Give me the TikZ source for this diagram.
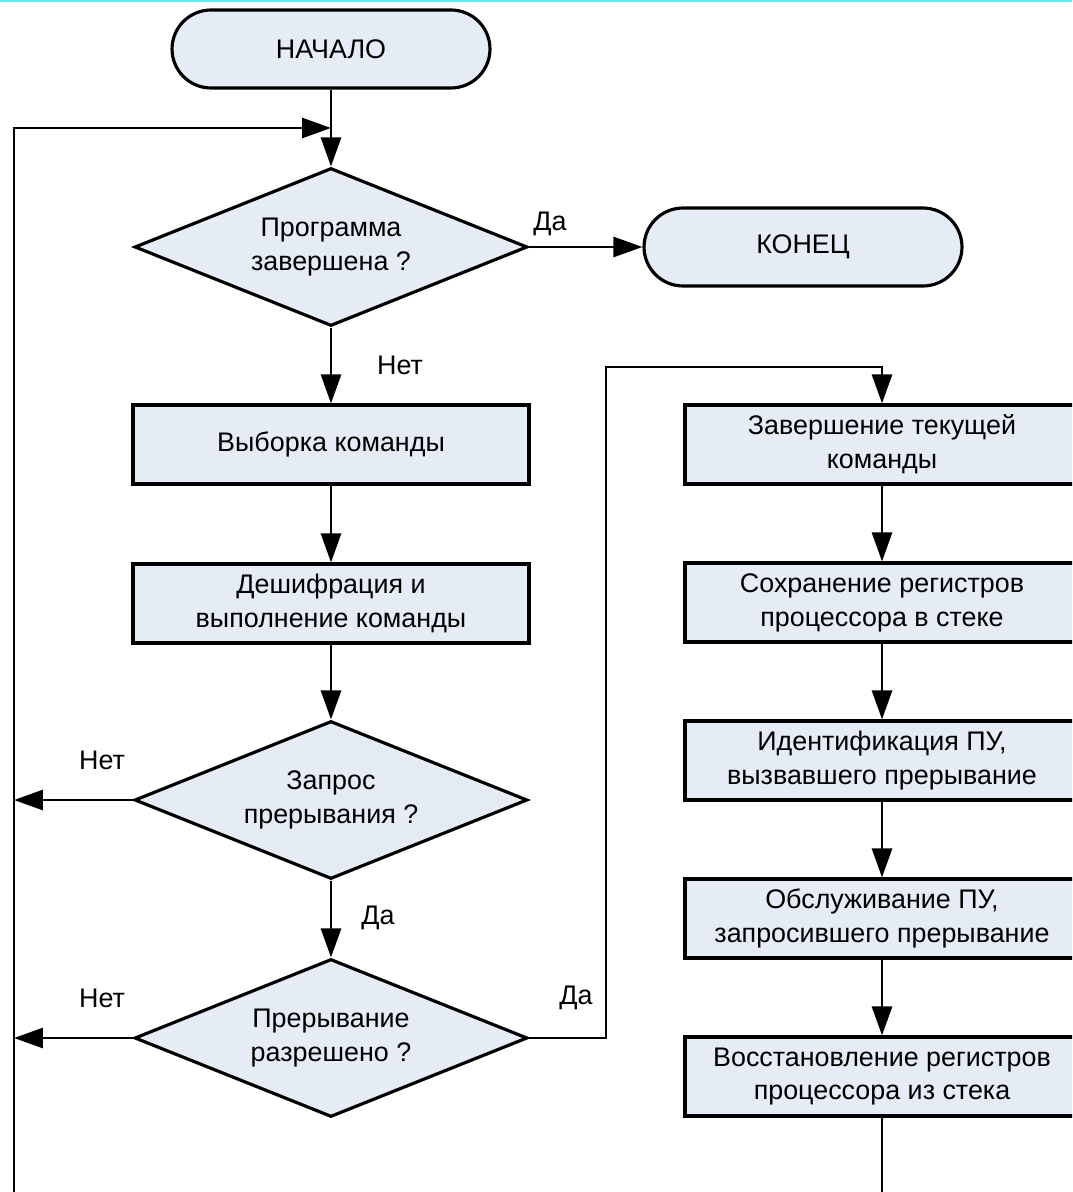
\documentclass[tikz,border=0pt]{standalone}
\usepackage{fontspec}
\setmainfont{Liberation Sans}
\usetikzlibrary{shapes.geometric,shapes.misc,arrows.meta}
\definecolor{fillc}{RGB}{230,236,246}
\definecolor{topc}{RGB}{90,240,240}
\begin{document}
\begin{tikzpicture}[x=0.02cm,y=-0.02cm,
 every node/.style={font=\fontsize{15.3}{19.3}\selectfont},
 proc/.style={draw,line width=1.8pt,fill=fillc,minimum width=7.92cm,minimum height=1.58cm,align=center,inner sep=0pt},
 rproc/.style={proc,minimum width=7.88cm},
 term/.style={draw,line width=1.8pt,fill=fillc,rounded rectangle,minimum width=6.36cm,minimum height=1.56cm,inner sep=0pt},
 dec/.style={draw,line width=1.8pt,fill=fillc,diamond,shape aspect=2.49,minimum width=7.86cm,minimum height=3.16cm,inner sep=0pt,align=center},
 conn/.style={line width=1.6pt},
 arr/.style={conn,-{Triangle[length=0.58cm,width=0.40cm]}}]
\useasboundingbox (0,0) rectangle (1072,1192);
\clip (0,0) rectangle (1072,1192);
\fill[topc] (0,0) rectangle (1072,2);

\node[term] (start) at (331,49) {НАЧАЛО};
\node[dec] (d1) at (331,247) {Программа\\завершена ?};
\node[term] (end) at (803,247) {КОНЕЦ};
\node[proc] (p1) at (331,444.5) {Выборка команды};
\node[proc] (p2) at (331,603.5) {Дешифрация и\\выполнение команды};
\node[dec] (d2) at (331,800) {Запрос\\прерывания ?};
\node[dec] (d3) at (331,1038) {Прерывание\\разрешено ?};

\node[rproc] (r1) at (882,444.5) {Завершение текущей\\команды};
\node[rproc] (r2) at (882,602.5) {Сохранение регистров\\процессора в стеке};
\node[rproc] (r3) at (882,760.5) {Идентификация ПУ,\\вызвавшего прерывание};
\node[rproc] (r4) at (882,918.5) {Обслуживание ПУ,\\запросившего прерывание};
\node[rproc] (r5) at (882,1076.5) {Восстановление регистров\\процессора из стека};

\node (l1) at (550,224) {Да};
\node (l2) at (400,365) {Нет};
\node (l3) at (102,760) {Нет};
\node (l4) at (378,918) {Да};
\node (l5) at (102,998) {Нет};
\node (l6) at (576,998) {Да};

\coordinate (lb) at (14,1210);
\coordinate (lt) at (14,128);
\coordinate (m) at (331,128);
\coordinate (j1) at (606,367);
\coordinate (rb) at (882,1210);

\draw[conn] (start.south) -- (m);
\draw[arr] (m) -- (d1.north);
\draw[arr] (lb) -- (lt) -- (m);
\draw[arr] (d1.east) -- (end.west);
\draw[arr] (d1.south) -- (p1.north);
\draw[arr] (p1.south) -- (p2.north);
\draw[arr] (p2.south) -- (d2.north);
\draw[arr] (d2.south) -- (d3.north);
\draw[arr] (d2.west) -- (d2.west -| lt);
\draw[arr] (d3.west) -- (d3.west -| lt);
\draw[arr] (d3.east) -| (j1) -| (r1.north);
\draw[arr] (r1.south) -- (r2.north);
\draw[arr] (r2.south) -- (r3.north);
\draw[arr] (r3.south) -- (r4.north);
\draw[arr] (r4.south) -- (r5.north);
\draw[conn] (r5.south) -- (rb);
\end{tikzpicture}
\end{document}
